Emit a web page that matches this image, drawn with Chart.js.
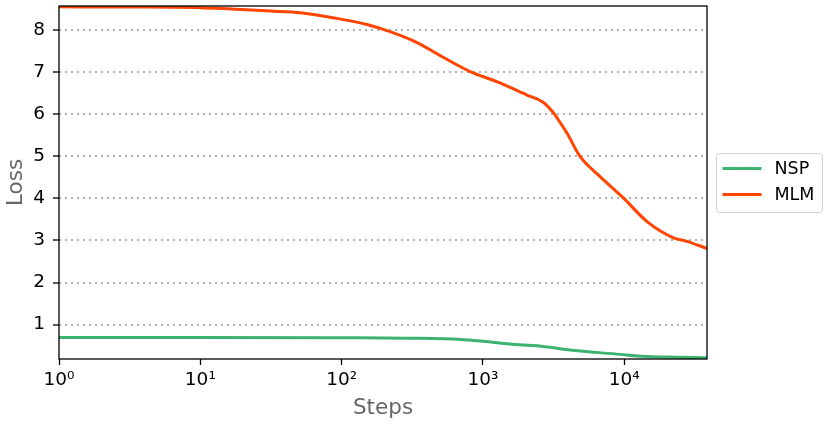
<!DOCTYPE html>
<html><head><meta charset="utf-8">
<script src="https://cdn.jsdelivr.net/npm/chart.js@4"></script>
<style>html,body{margin:0;padding:0;background:#fff;overflow:hidden;} #wrap{width:830px;height:427px;}</style>
</head><body><div id="wrap"><canvas id="c" width="830" height="427"></canvas></div>
<script>
const mlmSteps = [1, 3.16, 10, 31, 51, 87, 151, 220, 342, 522, 811, 1321, 2051, 2663, 3133, 3513, 3940, 4864, 6740, 9810, 14500, 22100, 27800, 38500];
const mlmLoss  = [8.56, 8.555, 8.54, 8.46, 8.42, 8.30, 8.14, 7.97, 7.71, 7.36, 7.02, 6.75, 6.46, 6.29, 6.05, 5.81, 5.55, 5.00, 4.52, 4.02, 3.45, 3.07, 2.98, 2.81];
const nspSteps = [1, 10, 100, 300, 700, 1000, 1800, 2500, 4500, 9300, 12300, 20000, 38500];
const nspLoss  = [0.69, 0.69, 0.685, 0.675, 0.645, 0.60, 0.52, 0.49, 0.38, 0.29, 0.25, 0.225, 0.21];
const xTickValues = [1, 10, 100, 1000, 10000];
const xTickLabels = ['10⁰', '10¹', '10²', '10³', '10⁴'];
const yTickValues = [1, 2, 3, 4, 5, 6, 7, 8];
const seriesNames = ['NSP', 'MLM'];
const seriesColors = ['#3cb371', '#ff4500'];

const FONT = 'DejaVu Sans';

const frame = {
  id: 'frame',
  afterDatasetsDraw(chart) {
    const {ctx, chartArea: a} = chart;
    ctx.save();
    ctx.strokeStyle = '#000';
    ctx.lineWidth = 1.3;
    ctx.strokeRect(a.left, a.top, a.right - a.left, a.bottom - a.top);
    ctx.restore();
  }
};

const boxLegend = {
  id: 'boxLegend',
  afterDraw(chart) {
    const {ctx, chartArea: a} = chart;
    const w = 106, h = 59;
    const x0 = a.right + 9.5;
    const y0 = Math.round((a.top + a.bottom) / 2 - h / 2) + 0.5;
    const r = 3;
    ctx.save();
    ctx.beginPath();
    ctx.moveTo(x0 + r, y0);
    ctx.lineTo(x0 + w - r, y0);
    ctx.arcTo(x0 + w, y0, x0 + w, y0 + r, r);
    ctx.lineTo(x0 + w, y0 + h - r);
    ctx.arcTo(x0 + w, y0 + h, x0 + w - r, y0 + h, r);
    ctx.lineTo(x0 + r, y0 + h);
    ctx.arcTo(x0, y0 + h, x0, y0 + h - r, r);
    ctx.lineTo(x0, y0 + r);
    ctx.arcTo(x0, y0, x0 + r, y0, r);
    ctx.closePath();
    ctx.fillStyle = 'rgba(255,255,255,0.8)';
    ctx.fill();
    ctx.strokeStyle = '#d0d0d0';
    ctx.lineWidth = 1;
    ctx.stroke();
    chart.data.datasets.forEach((ds, i) => {
      const yy = y0 + 15 + i * 26;
      ctx.beginPath();
      ctx.strokeStyle = ds.borderColor;
      ctx.lineWidth = 3;
      ctx.moveTo(x0 + 6, yy);
      ctx.lineTo(x0 + 45, yy);
      ctx.stroke();
      ctx.fillStyle = '#000';
      ctx.font = '17.5px "' + FONT + '"';
      ctx.textBaseline = 'middle';
      ctx.textAlign = 'left';
      ctx.fillText(ds.label, x0 + 58, yy + 0.5);
    });
    ctx.restore();
  }
};

const toPts = (xs, ys) => xs.map((x, i) => ({x: x, y: ys[i]}));

new Chart(document.getElementById('c'), {
  type: 'line',
  data: {
    datasets: [
      {label: seriesNames[0], data: toPts(nspSteps, nspLoss), borderColor: seriesColors[0], backgroundColor: seriesColors[0], borderWidth: 3, pointRadius: 0, cubicInterpolationMode: 'monotone', fill: false},
      {label: seriesNames[1], data: toPts(mlmSteps, mlmLoss), borderColor: seriesColors[1], backgroundColor: seriesColors[1], borderWidth: 3, pointRadius: 0, cubicInterpolationMode: 'monotone', fill: false}
    ]
  },
  options: {
    responsive: false,
    animation: false,
    devicePixelRatio: 1,
    layout: {padding: {left: 0, top: 6, right: 123, bottom: 0}},
    plugins: {legend: {display: false}, tooltip: {enabled: false}, title: {display: false}},
    scales: {
      x: {
        type: 'logarithmic',
        min: 1, max: 38500,
        afterBuildTicks(scale) { scale.ticks = xTickValues.map(v => ({value: v, major: true})); },
        afterFit(scale) { scale.height = 68; scale.paddingLeft = 0; scale.paddingRight = 0; },
        ticks: {
          autoSkip: false, maxRotation: 0, minRotation: 0, padding: 4,
          color: '#000', font: {family: FONT, size: 18.5},
          callback(value) { const i = xTickValues.indexOf(value); return i >= 0 ? xTickLabels[i] : ''; }
        },
        grid: {drawOnChartArea: false, drawTicks: true, tickLength: 6, tickColor: '#000', tickWidth: 1.3},
        border: {display: false},
        title: {display: true, text: 'Steps', color: '#666666', font: {family: FONT, size: 21.5}, padding: {top: 0, bottom: 5.5}}
      },
      y: {
        type: 'linear',
        min: 0.18, max: 8.58,
        afterBuildTicks(scale) { scale.ticks = yTickValues.map(v => ({value: v})); },
        afterFit(scale) { scale.width = 59; scale.paddingTop = 0; scale.paddingBottom = 0; },
        ticks: {padding: 8, color: '#000', font: {family: FONT, size: 18.5}},
        grid: {color: '#b0b0b0', lineWidth: 2, drawTicks: true, tickLength: 6, tickColor: '#000', tickWidth: 1.3, tickBorderDash: []},
        border: {display: false, dash: [2, 4]},
        title: {display: true, text: 'Loss', color: '#666666', font: {family: FONT, size: 21.5}, padding: {top: 4, bottom: 0}}
      }
    }
  },
  plugins: [frame, boxLegend]
});
</script>
</body></html>
